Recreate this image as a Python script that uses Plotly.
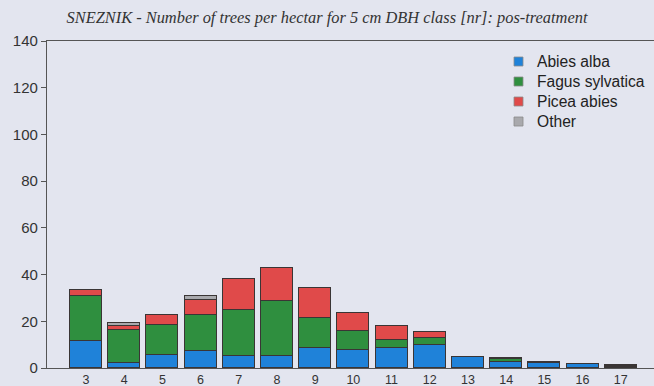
import plotly.graph_objects as go

# DBH classes (5 cm) and trees per hectare for each species
dbh_class = [3, 4, 5, 6, 7, 8, 9, 10, 11, 12, 13, 14, 15, 16, 17]
abies_alba = [11.5, 2.3, 5.7, 7.3, 5.3, 5.3, 8.7, 7.7, 8.4, 10.0, 4.7, 2.4, 2.0, 1.6, 0.4]
fagus_sylvatica = [19.5, 14.0, 12.6, 15.3, 19.4, 23.4, 12.8, 8.3, 3.6, 3.0, 0.0, 1.5, 0.4, 0.0, 0.5]
picea_abies = [2.5, 1.7, 4.3, 6.5, 13.4, 14.1, 12.9, 7.7, 6.1, 2.3, 0.0, 0.5, 0.0, 0.0, 0.4]
other = [0.0, 1.4, 0.0, 1.7, 0.0, 0.0, 0.0, 0.0, 0.0, 0.0, 0.0, 0.0, 0.0, 0.0, 0.0]

series = [
    ("Abies alba", abies_alba, "#1f82d9"),
    ("Fagus sylvatica", fagus_sylvatica, "#2f8f3f"),
    ("Picea abies", picea_abies, "#e04a4a"),
    ("Other", other, "#a9a9ad"),
]

W, H = 654, 386
ML, MR, MT, MB = 47, 0, 41, 18
PW, PH = W - ML - MR, H - MT - MB

bg = "#e3e5ef"
axis_col = "#555555"

fig = go.Figure()
for name, vals, col in series:
    fig.add_trace(go.Bar(
        x=dbh_class, y=vals, name=name, width=0.84, showlegend=False,
        marker=dict(color=col, line=dict(color="#3a3535", width=1)),
    ))


def px_to_paper(px, py):
    return (px - ML) / PW, (H - MB - py) / PH


# legend: small square swatch plus label for each series
shapes, annotations = [], []
for i, (name, _, col) in enumerate(series):
    cy = 61.5 + 20 * i
    x0, y0 = px_to_paper(514, cy + 4.5)
    x1, y1 = px_to_paper(523, cy - 4.5)
    shapes.append(dict(type="rect", xref="paper", yref="paper",
                       x0=x0, y0=y0, x1=x1, y1=y1,
                       fillcolor=col, line=dict(color="#8a8a8a", width=0.8)))
    tx, ty = px_to_paper(535, cy)
    annotations.append(dict(xref="paper", yref="paper", x=tx, y=ty,
                            xanchor="left", yanchor="middle", showarrow=False,
                            text=name, font=dict(size=15.6, color="#222222")))

fig.update_layout(
    barmode="stack",
    width=W, height=H,
    margin=dict(l=ML, r=MR, t=MT, b=MB),
    paper_bgcolor=bg, plot_bgcolor=bg,
    font=dict(family="Liberation Sans, Arial, sans-serif", color="#333333"),
    title=dict(
        text="SNEZNIK - Number of trees per hectar for 5 cm DBH class [nr]: pos-treatment",
        x=0.5, xanchor="center", y=0.955, yanchor="middle",
        font=dict(family="Liberation Serif, Times New Roman, serif", size=16.4,
                  color="#333333", style="italic"),
    ),
    shapes=shapes,
    annotations=annotations,
    bargap=0,
)

fig.update_xaxes(
    range=[1.98, 17.87], tickvals=dbh_class, ticktext=[str(v) for v in dbh_class],
    showline=True, linecolor=axis_col, linewidth=1.2, mirror=True,
    showgrid=False, zeroline=False, ticks="",
    tickfont=dict(size=12.5, color="#333333"),
)
fig.update_yaxes(
    range=[0, 140], tickvals=[0, 20, 40, 60, 80, 100, 120, 140],
    showline=True, linecolor=axis_col, linewidth=1.2,
    showgrid=False, zeroline=False, ticks="outside", ticklen=5,
    tickcolor=axis_col, tickfont=dict(size=15, color="#333333"),
)

fig.write_html("out.html")
